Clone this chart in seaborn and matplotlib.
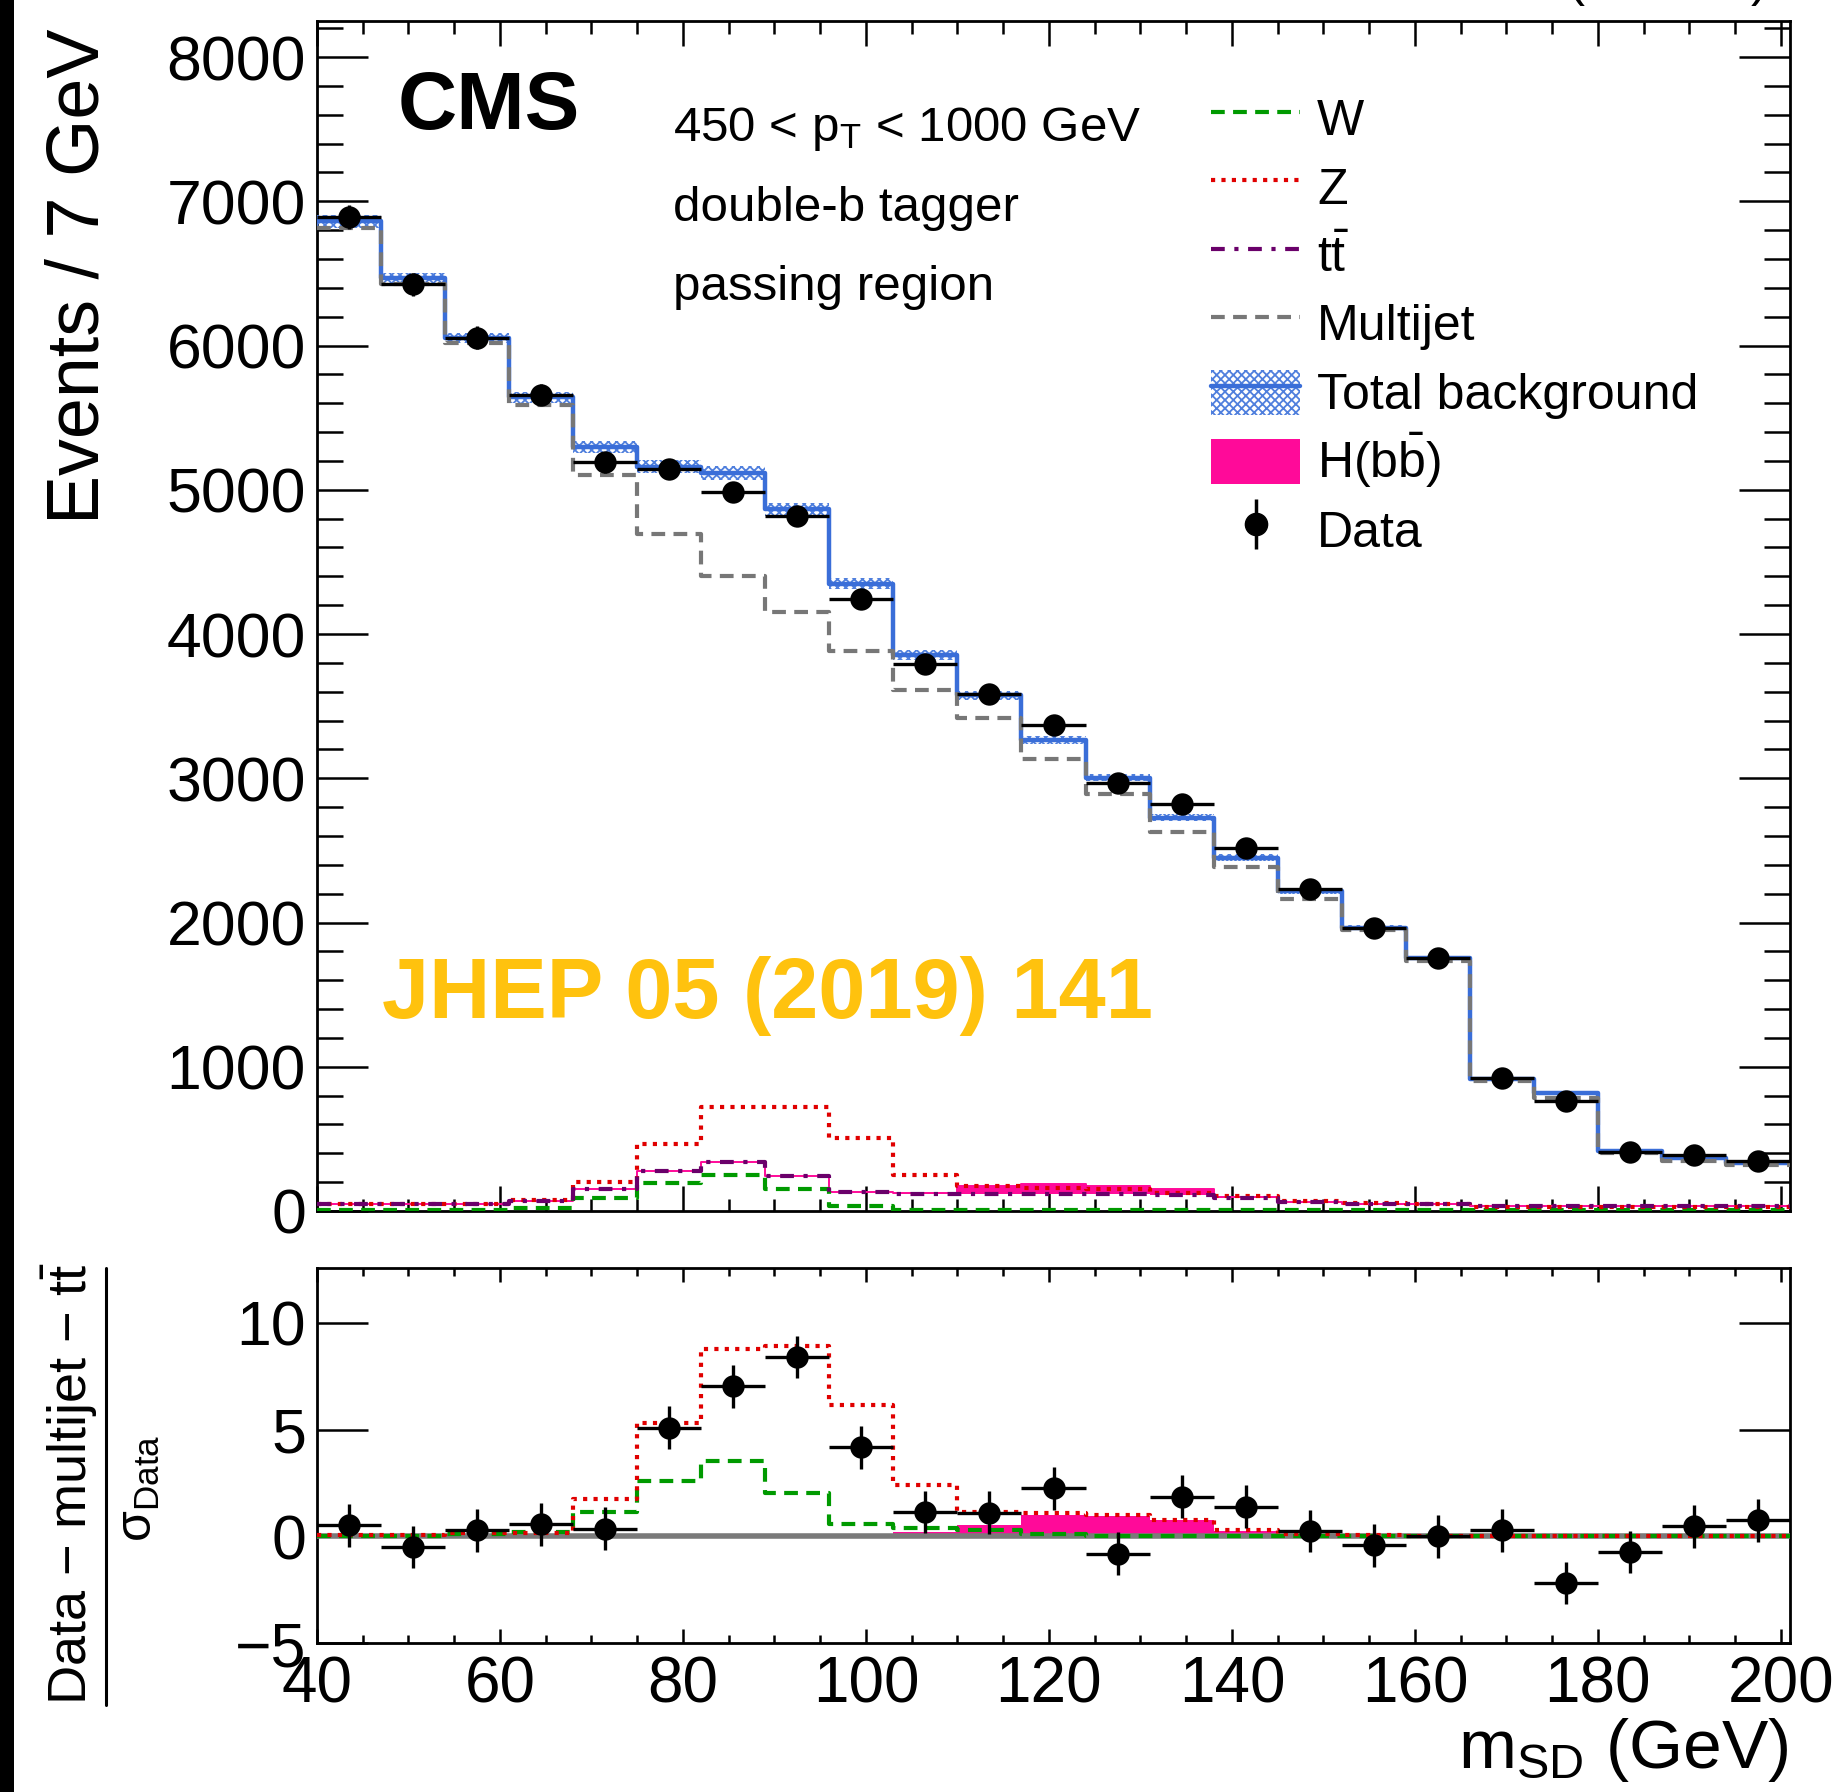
import numpy as np
import seaborn as sns
import matplotlib
matplotlib.use("Agg")
import matplotlib.pyplot as plt
from matplotlib.lines import Line2D
from matplotlib.patches import Patch, Rectangle
from matplotlib.ticker import MultipleLocator, FixedLocator
from matplotlib.legend_handler import HandlerTuple, HandlerPatch

# ---------------- data ----------------
bin_edges = [40, 47, 54, 61, 68, 75, 82, 89, 96, 103, 110, 117, 124, 131, 138,
             145, 152, 159, 166, 173, 180, 187, 194, 201]
bin_centers = [43.5, 50.5, 57.5, 64.5, 71.5, 78.5, 85.5, 92.5, 99.5, 106.5, 113.5,
               120.5, 127.5, 134.5, 141.5, 148.5, 155.5, 162.5, 169.5, 176.5,
               183.5, 190.5, 197.5]

data_events = [6890, 6425, 6055, 5660, 5190, 5145, 4985, 4820, 4245, 3790, 3585,
               3370, 2965, 2825, 2520, 2235, 1960, 1755, 920, 760, 410, 385, 350]
total_bkg = [6860, 6465, 6050, 5640, 5295, 5160, 5118, 4865, 4350, 3855, 3575,
             3265, 3005, 2725, 2450, 2220, 1965, 1755, 915, 815, 415, 370, 335]
total_bkg_unc = [45, 40, 35, 35, 40, 45, 50, 45, 40, 35, 30, 28, 26, 24, 22, 20,
                 18, 16, 12, 10, 8, 8, 8]
multijet = [6815, 6425, 6015, 5585, 5100, 4695, 4400, 4155, 3880, 3615, 3420,
            3135, 2890, 2630, 2385, 2165, 1945, 1730, 900, 785, 400, 350, 320]
w_bkg = [5, 5, 5, 23, 88, 196, 249, 150, 35, 8, 5, 5, 5, 5, 5, 5, 5, 5, 5, 5, 5, 5, 5]
z_bkg = [46, 46, 46, 76, 203, 467, 721, 721, 508, 249, 173, 160, 150, 125, 104,
         69, 53, 46, 30, 30, 30, 30, 30]
tt_bkg = [46, 46, 46, 70, 150, 277, 342, 243, 132, 115, 118, 118, 115, 108, 88,
          62, 46, 46, 35, 35, 35, 35, 35]
hbb_sig = [0, 0, 0, 0, 0, 0, 0, 0, 3, 10, 58, 67, 55, 46, 10, 3, 0, 0, 0, 0, 0, 0, 0]

# lower panel: (data - multijet - ttbar) / sigma_data
ratio_data = [0.52, -0.50, 0.28, 0.56, 0.36, 5.09, 7.02, 8.40, 4.17, 1.14, 1.11,
              2.24, -0.82, 1.85, 1.38, 0.25, -0.42, 0.00, 0.28, -2.19, -0.74, 0.47, 0.75]
ratio_err = [1.0] * 23
ratio_w = [0.0, 0.0, 0.12, 0.2, 1.15, 2.6, 3.55, 2.05, 0.56, 0.4, 0.3, 0.1, 0.0,
           0.0, 0.0, 0.0, 0.0, 0.0, 0.0, 0.0, 0.0, 0.0, 0.0]
ratio_z = [0.05, 0.05, 0.15, 0.15, 1.77, 5.3, 8.78, 8.9, 6.16, 2.4, 1.14, 1.07,
           1.0, 0.78, 0.28, 0.13, 0.08, 0.0, 0.0, 0.0, 0.0, 0.0, 0.0]
ratio_hbb = [0, 0, 0, 0, 0, 0, 0, 0, 0.05, 0.2, 0.52, 0.99, 0.94, 0.75, 0.24, 0.1,
             0, 0, 0, 0, 0, 0, 0]

main_yticks = [0, 1000, 2000, 3000, 4000, 5000, 6000, 7000, 8000]
ratio_yticks = [-5, 0, 5, 10]
x_ticks = [40, 60, 80, 100, 120, 140, 160, 180, 200]

# ---------------- style ----------------
sns.set_theme(style="ticks")
plt.rcParams.update({
    "font.family": ["Liberation Sans", "DejaVu Sans"],
    "mathtext.fontset": "custom",
    "mathtext.rm": "Liberation Sans",
    "mathtext.it": "Liberation Sans:italic",
    "mathtext.bf": "Liberation Sans:bold",
    "mathtext.sf": "Liberation Sans",
    "hatch.linewidth": 1.3,
    "axes.linewidth": 2.0,
    "axes.edgecolor": "black",
    "text.color": "black",
    "xtick.color": "black",
    "ytick.color": "black",
    "xtick.direction": "in",
    "ytick.direction": "in",
})

c_blue = "#3A6ED8"
c_hatch = "#4F7FDD"
c_mj = "#777777"
c_w = "#009A00"
c_z = "#E00000"
c_tt = "#6A006A"
c_h = "#FF0A99"

LW = 3.0
ls_w = (0, (3.3, 2.0))
ls_mj = (0, (3.3, 2.0))
ls_z = (0, (1.0, 1.5))
ls_tt = (0, (3.3, 2.3, 1.0, 2.3))

W, H = 1844, 1792
fig = plt.figure(figsize=(W / 100, H / 100), dpi=100)
fig.patch.set_facecolor("white")

ax = fig.add_axes([317 / W, 1 - 1211 / H, (1790 - 317) / W, (1211 - 21) / H])
axr = fig.add_axes([317 / W, 1 - 1643 / H, (1790 - 317) / W, (1643 - 1268) / H])


def ext(v):
    return list(v) + [v[-1]]


def step(axis, vals, **kw):
    sns.lineplot(x=bin_edges, y=ext(vals), ax=axis, estimator=None, sort=False,
                 drawstyle="steps-post", legend=False, **kw)


# ---------------- main panel ----------------
tt_plus_h = [a + b for a, b in zip(tt_bkg, hbb_sig)]
ax.fill_between(bin_edges, ext(tt_bkg), ext(tt_plus_h), step="post",
                facecolor=c_h, edgecolor=c_h, lw=0, zorder=2)
step(ax, tt_plus_h, color=c_h, lw=1.4, zorder=2)
step(ax, w_bkg, color=c_w, lw=LW, linestyle=ls_w, zorder=3)
step(ax, z_bkg, color=c_z, lw=LW, linestyle=ls_z, zorder=3)
step(ax, tt_bkg, color=c_tt, lw=LW, linestyle=ls_tt, zorder=3)
lo = [a - b for a, b in zip(total_bkg, total_bkg_unc)]
hi = [a + b for a, b in zip(total_bkg, total_bkg_unc)]
ax.fill_between(bin_edges, ext(lo), ext(hi), step="post", facecolor="none",
                edgecolor=c_hatch, hatch="xxxx", lw=0, zorder=4)
step(ax, total_bkg, color=c_blue, lw=3.2, zorder=5)
step(ax, multijet, color=c_mj, lw=LW, linestyle=ls_mj, zorder=6)
ax.errorbar(bin_centers, data_events, xerr=3.5, yerr=np.sqrt(data_events),
            fmt="none", ecolor="black", elinewidth=2.4, capsize=0, zorder=8)
sns.scatterplot(x=bin_centers, y=data_events, ax=ax, color="black", s=260,
                linewidth=0, zorder=9, legend=False)

ax.set_xlim(40, 201)
ax.set_ylim(0, 8250)
ax.yaxis.set_major_locator(FixedLocator(main_yticks))
ax.yaxis.set_minor_locator(MultipleLocator(200))
ax.xaxis.set_major_locator(FixedLocator(x_ticks))
ax.xaxis.set_minor_locator(MultipleLocator(5))
ax.tick_params(axis="x", which="major", length=18, width=1.8, top=True, bottom=True,
               labelbottom=False)
ax.tick_params(axis="x", which="minor", length=9, width=1.8, top=True, bottom=True)
ax.tick_params(axis="y", which="major", length=37, width=1.8, left=True, right=True,
               labelsize=45, pad=8)
ax.tick_params(axis="y", which="minor", length=19, width=1.8, left=True, right=True)
ax.set_xlabel("")
ax.set_ylabel("")
for s in ax.spines.values():
    s.set_linewidth(2.0)
    s.set_visible(True)

# ---------------- ratio panel ----------------
axr.fill_between(bin_edges, [0] * 24, ext(ratio_hbb), step="post", facecolor=c_h,
                 edgecolor=c_h, lw=0, zorder=2)
axr.axhline(0, color="#7A7A7A", lw=4.0, zorder=3)
step(axr, ratio_w, color=c_w, lw=LW, linestyle=ls_w, zorder=4)
step(axr, ratio_z, color=c_z, lw=LW, linestyle=ls_z, zorder=4)
axr.errorbar(bin_centers, ratio_data, xerr=3.5, yerr=ratio_err, fmt="none",
             ecolor="black", elinewidth=2.4, capsize=0, zorder=8)
sns.scatterplot(x=bin_centers, y=ratio_data, ax=axr, color="black", s=260,
                linewidth=0, zorder=9, legend=False)
axr.set_xlim(40, 201)
axr.set_ylim(-5, 12.57)
axr.yaxis.set_major_locator(FixedLocator(ratio_yticks))
axr.xaxis.set_major_locator(FixedLocator(x_ticks))
axr.xaxis.set_minor_locator(MultipleLocator(5))
axr.tick_params(axis="x", which="major", length=10, width=1.8, top=True, bottom=True,
                labelsize=46, pad=9)
axr.tick_params(axis="x", which="minor", length=6, width=1.8, top=True, bottom=True)
axr.tick_params(axis="y", which="major", length=37, width=1.8, left=True, right=True,
                labelsize=45, pad=8)
axr.set_xlabel("")
axr.set_ylabel("")
for s in axr.spines.values():
    s.set_linewidth(2.0)
    s.set_visible(True)

# ---------------- texts ----------------
fig.text(398 / W, 1 - 129 / H, "CMS", fontsize=59, fontweight="bold", ha="left",
         va="baseline")
fig.text(673 / W, 1 - 141 / H, r"450 < p$_{\mathrm{T}}$ < 1000 GeV", fontsize=35.5,
         ha="left", va="baseline")
fig.text(673 / W, 1 - 221 / H, "double-b tagger", fontsize=35.5, ha="left",
         va="baseline")
fig.text(673 / W, 1 - 300 / H, "passing region", fontsize=35.5, ha="left",
         va="baseline")
fig.text(382 / W, 1 - 1018 / H, "JHEP 05 (2019) 141", fontsize=61, fontweight="bold",
         color="#FFC20E", ha="left", va="baseline", zorder=20)
fig.text(79 / W, 1 - 29 / H, "Events / 7 GeV", fontsize=53, rotation=90, ha="center",
         va="top")
fig.text(1788 / W, 1 - 1768 / H, r"m$_{\mathrm{SD}}$ (GeV)", fontsize=50, ha="right",
         va="baseline")
fig.text(70 / W, 1 - 1484 / H, r"Data − multijet − t$\bar{\mathrm{t}}$", fontsize=39,
         rotation=90, ha="center", va="center")
fig.add_artist(Line2D([106 / W, 106 / W], [1 - 1268 / H, 1 - 1705 / H],
                      transform=fig.transFigure, color="black", lw=2.2))
fig.text(139 / W, 1 - 1488 / H, r"σ$_{\mathrm{Data}}$", fontsize=36, rotation=90,
         ha="center", va="center")
fig.text(1766 / W, 1 + 4 / H, r"35.9 fb$^{-1}$ (13 TeV)", fontsize=37, ha="right",
         va="baseline")
fig.add_artist(Rectangle((0, 0), 14 / W, 1, transform=fig.transFigure,
                         facecolor="black", edgecolor="none", zorder=100))


# ---------------- legend ----------------
def legend_rect(legend, orig_handle, xdescent, ydescent, width, height, fontsize):
    ph = 0.9 * fontsize
    y0 = -ydescent + (height - ph) / 2.0
    return Rectangle((-xdescent, y0), width, ph)


handles = [
    Line2D([], [], color=c_w, lw=LW, linestyle=ls_w),
    Line2D([], [], color=c_z, lw=LW, linestyle=ls_z),
    Line2D([], [], color=c_tt, lw=LW, linestyle=ls_tt),
    Line2D([], [], color=c_mj, lw=LW, linestyle=ls_mj),
    (Patch(facecolor="white", edgecolor=c_hatch, hatch="xxxx", lw=0),
     Line2D([], [], color=c_blue, lw=3.2)),
    Patch(facecolor=c_h, edgecolor=c_h, lw=0),
    (Line2D([], [], marker="|", ms=36, mew=2.5, color="black", ls="none"),
     Line2D([], [], marker="o", ms=16, color="black", ls="none")),
]
labels = ["W", "Z", r"t$\bar{\mathrm{t}}$", "Multijet", "Total background",
          r"H(b$\bar{\mathrm{b}}$)", "Data"]
fig.legend(handles, labels, loc="upper left", bbox_to_anchor=(1211 / W, 1 - 89 / H),
           fontsize=36, handlelength=1.78, handleheight=1.45, handletextpad=0.34,
           labelspacing=0.18, borderpad=0, borderaxespad=0, frameon=False,
           handler_map={tuple: HandlerTuple(ndivide=1),
                        Patch: HandlerPatch(patch_func=legend_rect)})

fig.savefig("out.png", dpi=100)
